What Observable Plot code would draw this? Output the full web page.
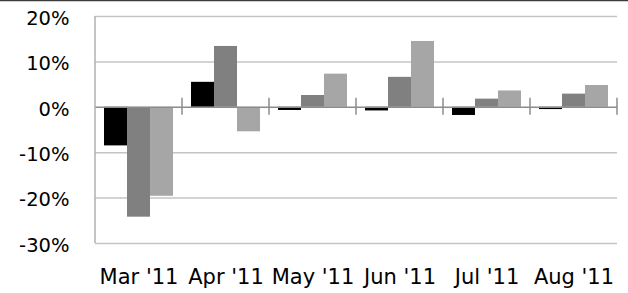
<!DOCTYPE html>
<html>
<head>
<meta charset="utf-8">
<script src="https://cdn.jsdelivr.net/npm/d3@7"></script>
<script src="https://cdn.jsdelivr.net/npm/@observablehq/plot@0.6"></script>
<style>
  html, body { margin: 0; padding: 0; background: #fff; overflow: hidden; }
  #chart svg { display: block; }
</style>
</head>
<body>
<div id="chart"></div>
<script>
const months = ["Mar '11", "Apr '11", "May '11", "Jun '11", "Jul '11", "Aug '11"];
const seriesNames = ["Series 1", "Series 2", "Series 3"];
const series1 = [-8.5, 5.5, -0.7, -0.8, -1.8, -0.5];
const series2 = [-24.2, 13.4, 2.6, 6.6, 1.8, 2.9];
const series3 = [-19.6, -5.4, 7.3, 14.5, 3.6, 4.8];
const seriesColors = ["#000000", "#808080", "#a6a6a6"];
const yTicks = [-30, -20, -10, 0, 10, 20];

const values = [series1, series2, series3];
const data = [];
months.forEach((m, i) => {
  seriesNames.forEach((s, j) => data.push({month: m, series: s, value: values[j][i]}));
});

const chart = Plot.plot({
  width: 628,
  height: 293,
  marginLeft: 93,
  marginRight: 10,
  marginTop: 16,
  marginBottom: 50,
  style: {fontFamily: "'DejaVu Sans', sans-serif", color: "#000", background: "#fff"},
  fx: {domain: months, padding: 0, label: null},
  x: {domain: seriesNames, paddingInner: 0, paddingOuter: 0.375, axis: null},
  y: {domain: [yTicks[0], yTicks[yTicks.length - 1]], axis: null},
  color: {domain: seriesNames, range: seriesColors},
  marks: [
    Plot.ruleY(yTicks.filter(d => d !== 0), {stroke: "#c4c4c4", strokeWidth: 1.5}),
    Plot.barY(data, {fx: "month", x: "series", y: "value", fill: "series"}),
    Plot.ruleY([0], {stroke: "#8c8c8c", strokeWidth: 1.5}),
    Plot.axisY(yTicks, {tickSize: 0, tickPadding: 26, tickFormat: d => d + "%", fontSize: 19.5, dy: 2, label: null}),
    Plot.axisFx({anchor: "bottom", tickSize: 0, tickPadding: 26, fontSize: 21, label: null})
  ]
});

document.getElementById("chart").appendChild(chart);

// axis decorations using the plot's own scales
const fx = chart.scale("fx");
const y = chart.scale("y");
const svg = d3.select(chart);
const y0 = y.apply(0);
const xLeft = fx.apply(months[0]);
svg.append("line")
  .attr("x1", xLeft).attr("x2", xLeft)
  .attr("y1", y.apply(yTicks[yTicks.length - 1])).attr("y2", y.apply(yTicks[0]))
  .attr("stroke", "#b0b0b0").attr("stroke-width", 1.5);
const bounds = months.map(m => fx.apply(m)).concat([fx.apply(months[months.length - 1]) + fx.bandwidth]);
bounds.slice(1).forEach(bx => {
  svg.append("line")
    .attr("x1", bx).attr("x2", bx)
    .attr("y1", y0 - 9).attr("y2", y0 + 8)
    .attr("stroke", "#8c8c8c").attr("stroke-width", 1.5);
});
svg.append("line")
  .attr("x1", 0).attr("x2", 628).attr("y1", 0.5).attr("y2", 0.5)
  .attr("stroke", "#3a3a3a").attr("stroke-width", 1.5);
</script>
</body>
</html>
